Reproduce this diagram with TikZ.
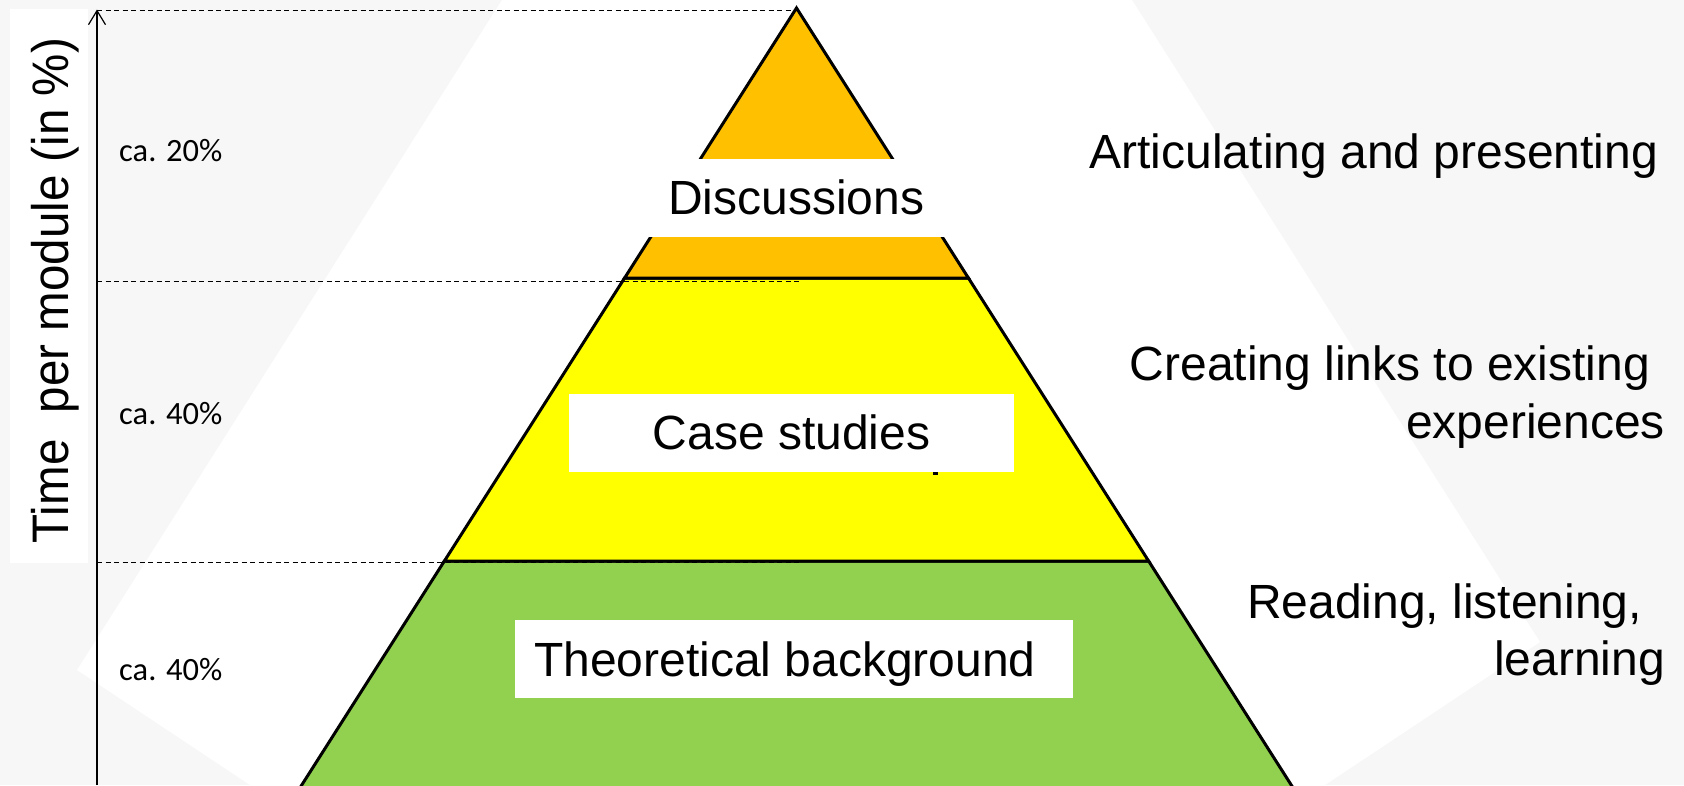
\documentclass[tikz,border=0pt]{standalone}
\usepackage{fontspec}
\setmainfont{Liberation Sans}
\newfontfamily\carlitofont{Carlito}
\usetikzlibrary{arrows.meta}
\definecolor{bggrey}{HTML}{F7F7F7}
\definecolor{lvorange}{HTML}{FFC000}
\definecolor{lvyellow}{HTML}{FFFF00}
\definecolor{lvgreen}{HTML}{92D050}
\begin{document}
\begin{tikzpicture}[x=1pt,y=-1pt,
  layer/.style={draw=black, line width=3pt, line join=miter},
  guide/.style={draw=black, line width=1pt, dash pattern=on 5pt off 3.5pt},
  whitebox/.style={fill=white, draw=none, inner sep=0pt, outer sep=0pt, anchor=north west},
  big/.style={font=\fontsize{48}{57}\selectfont, inner sep=0pt, outer sep=0pt},
  pct/.style={font=\carlitofont\fontsize{32.5}{39}\selectfont, inner sep=0pt, anchor=base west},
]
\useasboundingbox (0,0) rectangle (1684,785);
% background
\fill[bggrey] (0,0) rectangle (1684,785);
\fill[white] (502,0) -- (1132,0) -- (1540,642) -- (1325,785) -- (250,785) -- (77,670) -- cycle;
% vertical label box
\node[whitebox, minimum width=77.7pt, minimum height=554pt] (ybox) at (10,9) {};
% pyramid
\coordinate (apex) at (796.5,8);
\coordinate (oyL) at (624.6,278);
\coordinate (oyR) at (968.4,278);
\coordinate (ygL) at (444.4,561);
\coordinate (ygR) at (1148.6,561);
\coordinate (gbL) at (292.2,800);
\coordinate (gbR) at (1300.8,800);
\begin{scope}
\clip (0,0) rectangle (1684,785);
\filldraw[layer, fill=lvgreen] (ygL) -- (ygR) -- (gbR) -- (gbL) -- cycle;
\filldraw[layer, fill=lvyellow] (oyL) -- (oyR) -- (ygR) -- (ygL) -- cycle;
\filldraw[layer, fill=lvorange] (apex) -- (oyR) -- (oyL) -- cycle;
\end{scope}
% axis and guides
\coordinate (axbot) at (97,785);
\coordinate (axtop) at (97,9.5);
\coordinate (g1a) at (97,10);
\coordinate (g1b) at (796.5,10);
\coordinate (g2a) at (97,281);
\coordinate (g2b) at (800,281);
\coordinate (g3a) at (97,562);
\coordinate (g3b) at (800,562);
\draw[guide] (g1a) -- (g1b);
\draw[guide] (g2a) -- (g2b);
\draw[guide] (g3a) -- (g3b);
\draw[line width=1.2pt, -{Straight Barb[length=14pt,width=17pt,line width=1.2pt]}] (axbot) -- (axtop);
% white label boxes
\node[whitebox, minimum width=315pt, minimum height=78pt] (discbox) at (640,159) {};
\node[whitebox, minimum width=445pt, minimum height=78pt] (casebox) at (569,394) {};
\node[whitebox, minimum width=558.5pt, minimum height=78pt] (theobox) at (514.5,620) {};
\fill (933,472) rectangle (938,474.5);
% texts
\node[big, anchor=base] (disc) at (796.2,214.3) {Discussions};
\node[big, anchor=base] (case) at (791.5,449) {Case studies};
\node[big, anchor=base west] (theory) at (534,676.7) {Theoretical background};
\node[big, anchor=base east] (r1) at (1658,168) {Articulating and presenting};
\node[big, anchor=base east] (r2a) at (1650,380) {Creating links to existing};
\node[big, anchor=base east] (r2b) at (1665,438.3) {experiences};
\node[big, anchor=base east] (r3a) at (1642,618.3) {Reading, listening,};
\node[big, anchor=base east] (r3b) at (1665,675) {learning};
\node[pct] (p1) at (119,161) {ca. 20\%};
\node[pct] (p2) at (119,424) {ca. 40\%};
\node[pct] (p3) at (119,680.5) {ca. 40\%};
\node[big, rotate=90, anchor=base west] (ylabel) at (68.3,543.3) {\scalebox{0.99}[1.07]{Time\ \ per module (in \%)}};
\end{tikzpicture}
\end{document}
